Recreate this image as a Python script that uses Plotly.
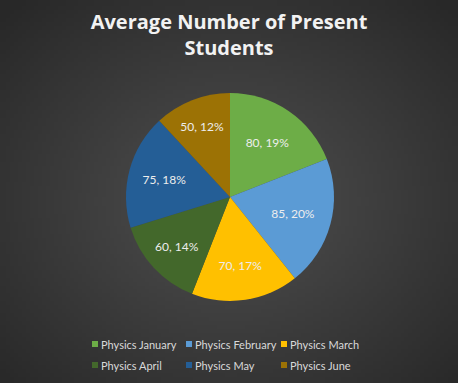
import base64, struct, zlib
import numpy as np
import plotly.graph_objects as go

labels = ["Physics January", "Physics February", "Physics March",
          "Physics April", "Physics May", "Physics June"]
values = [80, 85, 70, 60, 75, 50]
colors = ["#6DAD47", "#5B9BD5", "#FFC000", "#43682B", "#245E96", "#9C7205"]

W, H = 458, 383

# radial gradient background as PNG (data URI)
gw, gh = 115, 96
yy, xx = np.mgrid[0:gh, 0:gw]
cx, cy = gw * 0.5, gh * 0.52
d = np.sqrt(((xx - cx) / (gw * 0.5)) ** 2 + ((yy - cy) / (gh * 0.5)) ** 2) / np.sqrt(2)
d = np.clip(d, 0, 1)
val = (80 - (80 - 40) * d).astype(np.uint8)
raw = b"".join(b"\x00" + bytes(np.repeat(row, 3).tolist()) for row in val)
def chunk(t, data):
    c = struct.pack(">I", len(data)) + t + data
    return c + struct.pack(">I", zlib.crc32(t + data) & 0xffffffff)
png = (b"\x89PNG\r\n\x1a\n" + chunk(b"IHDR", struct.pack(">IIBBBBB", gw, gh, 8, 2, 0, 0, 0))
       + chunk(b"IDAT", zlib.compress(raw, 9)) + chunk(b"IEND", b""))
uri = "data:image/png;base64," + base64.b64encode(png).decode()

cxp, cyp, r = 230, 197, 104
fig = go.Figure(go.Pie(
    labels=labels, values=values, sort=False, direction="clockwise", rotation=0,
    marker=dict(colors=colors, line=dict(width=0)),
    texttemplate="%{value}, %{percent:.0%}", textposition="inside",
    insidetextorientation="horizontal",
    textfont=dict(family="Lato", size=12, color="#EDEDED"),
    hoverinfo="label+value+percent",
    showlegend=False,
    domain=dict(x=[(cxp - r) / W, (cxp + r) / W],
                y=[(H - cyp - r) / H, (H - cyp + r) / H]),
))

# legend laid out as in the reference: 3 columns x 2 rows, small square + label
col_left = [92, 186, 281]
row_top = [341, 362]
msz = 6
shapes, annots = [], []
for i, (lab, col) in enumerate(zip(labels, colors)):
    mx, my = col_left[i % 3], row_top[i // 3]
    shapes.append(dict(type="rect", xref="paper", yref="paper",
                       x0=mx / W, x1=(mx + msz) / W, y0=1 - my / H, y1=1 - (my + msz) / H,
                       fillcolor=col, line=dict(width=0), layer="above"))
    annots.append(dict(text=lab, xref="paper", yref="paper", x=(mx + msz + 2) / W,
                       y=1 - (my + msz / 2) / H, xanchor="left", yanchor="middle",
                       showarrow=False, borderpad=0,
                       font=dict(family="Lato", size=11, color="#D9D9D9")))

fig.update_layout(
    width=W, height=H, margin=dict(l=0, r=0, t=0, b=0),
    paper_bgcolor="#3f3f3f", plot_bgcolor="rgba(0,0,0,0)",
    images=[dict(source=uri, xref="paper", yref="paper", x=0, y=1, sizex=1, sizey=1,
                 xanchor="left", yanchor="top", sizing="stretch", layer="below")],
    title=dict(text="Average Number of Present<br>Students", x=0.5, xanchor="center",
               xref="container", y=1 - 29 / H, yanchor="top",
               font=dict(family="Open Sans", size=20, color="#F2F2F2", weight="bold")),
    showlegend=False,
    shapes=shapes, annotations=annots,
)
fig.write_html("out.html", config={"displayModeBar": False},
               post_script="document.body.style.margin='0';document.body.style.overflow='hidden';")
